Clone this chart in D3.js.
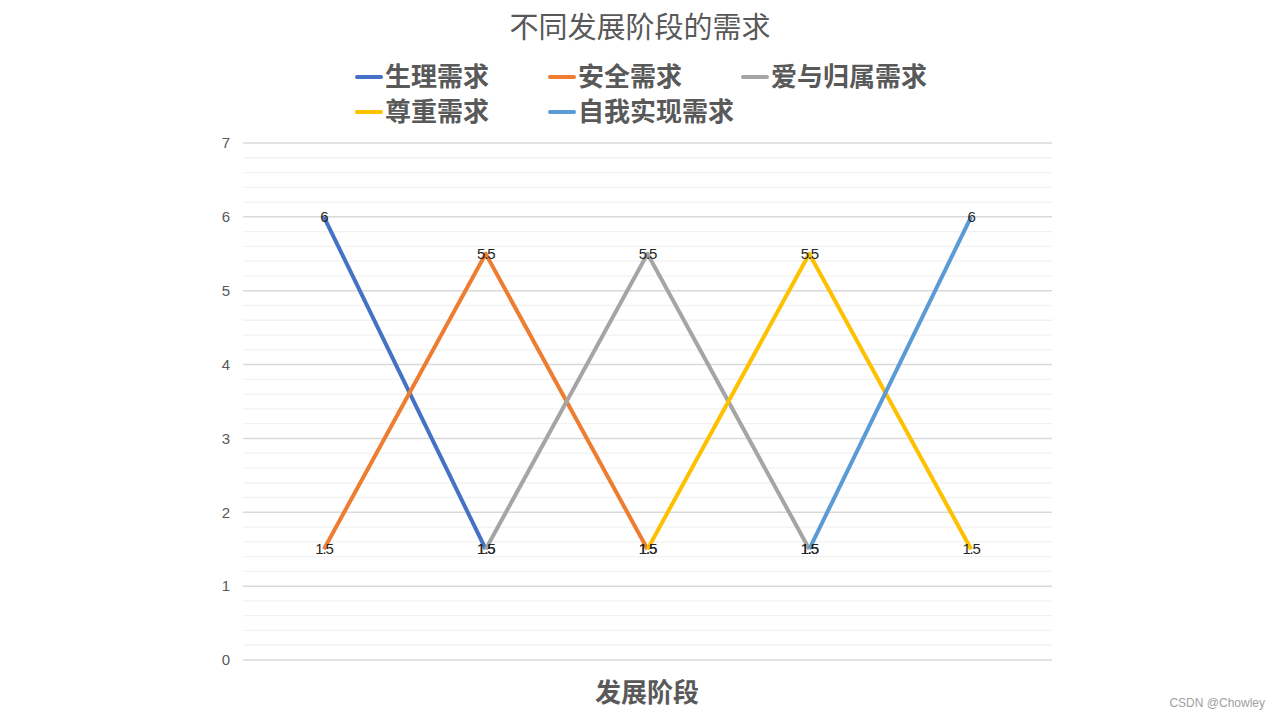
<!DOCTYPE html>
<html>
<head>
<meta charset="utf-8">
<style>
    body { margin: 0; background: #fff; }
    svg { display: block; }
</style>
</head>
<body>
<svg id="chart" width="1280" height="720"></svg>
<script src="https://cdn.jsdelivr.net/npm/d3@7"></script>
<script>
    // chart data
    let stages = ["1", "2", "3", "4", "5"]
    let seriesNames = ["生理需求", "安全需求", "爱与归属需求", "尊重需求", "自我实现需求"]
    let seriesColors = ["#4472C4", "#ED7D31", "#A5A5A5", "#FFC000", "#5B9BD5"]
    let physiological = [6, 1.5, null, null, null]
    let safety = [1.5, 5.5, 1.5, null, null]
    let belonging = [null, 1.5, 5.5, 1.5, null]
    let esteem = [null, null, 1.5, 5.5, 1.5]
    let selfActual = [null, null, null, 1.5, 6]
    let yTicks = [0, 1, 2, 3, 4, 5, 6, 7]

    let allSeries = [physiological, safety, belonging, esteem, selfActual]

    let svg = d3.select("#chart")
    let cjk = "'Noto Sans CJK SC', 'Noto Sans', sans-serif"
    let numFont = "'Liberation Sans', Arial, sans-serif"
    let textColor = "#595959"

    // plot area
    let plotLeft = 243, plotRight = 1052, plotTop = 143, plotBottom = 660

    let x = d3.scaleBand().domain(stages).range([plotLeft, plotRight])
    let y = d3.scaleLinear().domain([0, 7]).range([plotBottom, plotTop])

    // minor gridlines every 0.2
    let minor = d3.range(0, 7.001, 0.2).filter(v => Math.abs(v - Math.round(v)) > 0.01)
    svg.append("g").selectAll("line")
        .data(minor)
        .enter().append("line")
        .attr("x1", plotLeft).attr("x2", plotRight)
        .attr("y1", d => y(d)).attr("y2", d => y(d))
        .style("stroke", "#f2f2f2").style("stroke-width", 1.3)

    // major gridlines
    svg.append("g").selectAll("line")
        .data(yTicks)
        .enter().append("line")
        .attr("x1", plotLeft).attr("x2", plotRight)
        .attr("y1", d => y(d)).attr("y2", d => y(d))
        .style("stroke", "#d9d9d9").style("stroke-width", 1.5)

    // y axis labels
    let yAxis = d3.axisLeft(y).tickValues(yTicks).tickFormat(d3.format("d"))
        .tickSize(0).tickPadding(13)
    let yg = svg.append("g").attr("transform", `translate(${plotLeft},0)`).call(yAxis)
    yg.select(".domain").remove()
    yg.selectAll("text")
        .style("font-family", numFont).style("font-size", "15px")
        .style("fill", textColor)

    // lines
    let line = d3.line()
        .defined(d => d.v != null)
        .x(d => x(d.s) + x.bandwidth() / 2)
        .y(d => y(d.v))

    allSeries.forEach((vals, i) => {
        let pts = vals.map((v, j) => ({ s: stages[j], v: v }))
        svg.append("path")
            .datum(pts)
            .attr("d", line)
            .style("fill", "none")
            .style("stroke", seriesColors[i])
            .style("stroke-width", 4)
            .style("stroke-linejoin", "round")
    })

    // data labels on top
    allSeries.forEach((vals, i) => {
        let pts = vals.map((v, j) => ({ s: stages[j], v: v })).filter(d => d.v != null)
        svg.append("g").selectAll("text")
            .data(pts)
            .enter().append("text")
            .attr("x", d => x(d.s) + x.bandwidth() / 2)
            .attr("y", d => y(d.v))
            .attr("dy", "0.35em")
            .attr("text-anchor", "middle")
            .style("font-family", numFont).style("font-size", "15px")
            .style("letter-spacing", "-1.2px")
            .style("fill", "#262626")
            .text(d => d.v)
    })

    // title
    svg.append("text")
        .attr("x", 640).attr("y", 38)
        .attr("text-anchor", "middle")
        .style("font-family", cjk).style("font-size", "29px")
        .style("fill", textColor)
        .text("不同发展阶段的需求")

    // legend: 3 per row
    let legendX = [355, 548, 741]
    let legendY = [77, 112]
    seriesNames.forEach((name, i) => {
        let lx = legendX[i % 3], ly = legendY[Math.floor(i / 3)]
        let g = svg.append("g")
        g.append("line")
            .attr("x1", lx + 2).attr("x2", lx + 26)
            .attr("y1", ly).attr("y2", ly)
            .style("stroke", seriesColors[i]).style("stroke-width", 4)
            .style("stroke-linecap", "round")
        g.append("text")
            .attr("x", lx + 30).attr("y", ly)
            .attr("dy", "0.36em")
            .style("font-family", cjk).style("font-size", "26px")
            .style("font-weight", "bold")
            .style("fill", textColor)
            .text(name)
    })

    // x axis title
    svg.append("text")
        .attr("x", 647).attr("y", 693)
        .attr("dy", "0.36em")
        .attr("text-anchor", "middle")
        .style("font-family", cjk).style("font-size", "26px")
        .style("font-weight", "bold")
        .style("fill", textColor)
        .text("发展阶段")

    // watermark
    svg.append("text")
        .attr("x", 1265).attr("y", 707)
        .attr("text-anchor", "end")
        .style("font-family", numFont).style("font-size", "12px")
        .style("fill", "#a0a0a0")
        .text("CSDN @Chowley")
</script>
</body>
</html>
